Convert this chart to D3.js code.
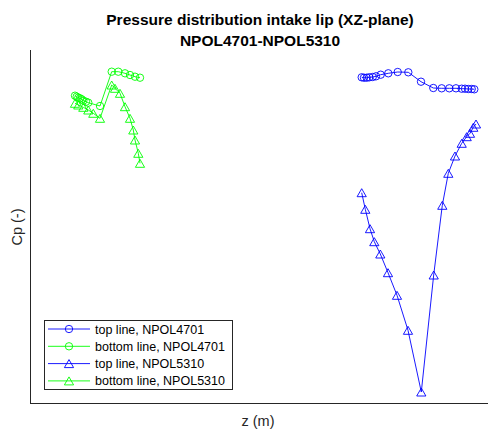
<!DOCTYPE html>
<html>
<head>
<meta charset="utf-8">
<script src="https://cdn.jsdelivr.net/npm/d3@7"></script>
<style>
  body { margin: 0; background: #fff; }
  svg { display: block; font-family: "Liberation Sans", Arial, sans-serif; }
</style>
</head>
<body>
<div id="chart"></div>
<script>
// values (z in m, Cp)
const topZ4701 = [3.317, 3.34, 3.367, 3.393, 3.427, 3.46, 3.507, 3.583, 3.677, 3.783, 3.91, 4.033, 4.117, 4.193, 4.26, 4.317, 4.35, 4.383, 4.417, 4.443];
const topCp4701 = [1.497, 1.493, 1.493, 1.497, 1.50, 1.507, 1.523, 1.537, 1.55, 1.547, 1.453, 1.39, 1.387, 1.387, 1.387, 1.383, 1.383, 1.38, 1.38, 1.377];

const botZ4701 = [0.45, 0.467, 0.483, 0.50, 0.517, 0.533, 0.56, 0.583, 0.70, 0.817, 0.883, 0.95, 1.00, 1.05, 1.10];
const botCp4701 = [1.313, 1.303, 1.293, 1.287, 1.277, 1.263, 1.253, 1.243, 1.21, 1.553, 1.553, 1.537, 1.52, 1.503, 1.493];

const topZ5310 = [3.317, 3.353, 3.40, 3.443, 3.503, 3.58, 3.67, 3.78, 3.913, 4.037, 4.123, 4.183, 4.25, 4.317, 4.367, 4.40, 4.433, 4.46];
const topCp5310 = [0.343, 0.177, -0.017, -0.147, -0.27, -0.457, -0.683, -1.033, -1.65, -0.48, 0.217, 0.537, 0.71, 0.837, 0.903, 0.937, 0.997, 1.03];

const botZ5310 = [0.45, 0.483, 0.533, 0.583, 0.633, 0.70, 0.817, 0.85, 0.90, 0.95, 1.00, 1.033, 1.05, 1.083, 1.10];
const botCp5310 = [1.237, 1.22, 1.197, 1.17, 1.137, 1.087, 1.42, 1.387, 1.337, 1.203, 1.087, 0.97, 0.87, 0.737, 0.637];

const seriesNames = ['top line, NPOL4701', 'bottom line, NPOL4701', 'top line, NPOL5310', 'bottom line, NPOL5310'];

const width = 488, height = 430;
const margin = { top: 50, right: 0, bottom: 27, left: 30 };

const svg = d3.select('#chart').append('svg')
  .attr('width', width)
  .attr('height', height);

const x = d3.scaleLinear()
  .domain([0, 4.58])
  .range([margin.left, width - margin.right]);

const y = d3.scaleLinear()
  .domain([-1.76, 1.77])
  .range([height - margin.bottom, margin.top]);

const series = [
  { name: seriesNames[0], z: topZ4701, cp: topCp4701, color: '#0000ff', marker: 'circle' },
  { name: seriesNames[1], z: botZ4701, cp: botCp4701, color: '#00ff00', marker: 'circle' },
  { name: seriesNames[2], z: topZ5310, cp: topCp5310, color: '#0000ff', marker: 'triangle' },
  { name: seriesNames[3], z: botZ5310, cp: botCp5310, color: '#00ff00', marker: 'triangle' }
];

function markerPath(type) {
  if (type === 'circle') {
    const r = 3.7;
    return `M${r},0A${r},${r} 0 1,1 ${-r},0A${r},${r} 0 1,1 ${r},0Z`;
  }
  return 'M0,-4L4.6,4L-4.6,4Z';
}

// axes: left and bottom only, no ticks
const axisColor = '#262626';
svg.append('line')
  .attr('x1', x.range()[0]).attr('x2', x.range()[0])
  .attr('y1', y.range()[1]).attr('y2', y.range()[0])
  .attr('stroke', axisColor).attr('stroke-width', 1).attr('shape-rendering', 'crispEdges');
svg.append('line')
  .attr('x1', x.range()[0]).attr('x2', x.range()[1])
  .attr('y1', y.range()[0]).attr('y2', y.range()[0])
  .attr('stroke', axisColor).attr('stroke-width', 1).attr('shape-rendering', 'crispEdges');

const line = d3.line()
  .x(d => x(d[0]))
  .y(d => y(d[1]));

const plot = svg.append('g');

for (const s of series) {
  const pts = s.z.map((z, i) => [z, s.cp[i]]);
  plot.append('path')
    .datum(pts)
    .attr('fill', 'none')
    .attr('stroke', s.color)
    .attr('stroke-width', 0.9)
    .attr('d', line);

  plot.selectAll(null)
    .data(pts)
    .enter()
    .append('path')
    .attr('transform', d => `translate(${x(d[0])},${y(d[1])})`)
    .attr('d', markerPath(s.marker))
    .attr('fill', 'none')
    .attr('stroke', s.color)
    .attr('stroke-width', 0.9);
}

// title
svg.append('text')
  .attr('x', 260).attr('y', 24.5)
  .attr('text-anchor', 'middle')
  .attr('font-weight', 'bold')
  .attr('font-size', 15.5)
  .attr('fill', '#000')
  .text('Pressure distribution intake lip (XZ-plane)');
svg.append('text')
  .attr('x', 260).attr('y', 45.5)
  .attr('text-anchor', 'middle')
  .attr('font-weight', 'bold')
  .attr('font-size', 15.5)
  .attr('fill', '#000')
  .text('NPOL4701-NPOL5310');

// axis labels
svg.append('text')
  .attr('x', 258).attr('y', 426)
  .attr('text-anchor', 'middle')
  .attr('font-size', 14.5)
  .attr('fill', axisColor)
  .text('z (m)');
svg.append('text')
  .attr('transform', 'translate(22,227) rotate(-90)')
  .attr('text-anchor', 'middle')
  .attr('font-size', 14.5)
  .attr('fill', axisColor)
  .text('Cp (-)');

// legend
const legend = svg.append('g').attr('transform', 'translate(44,320)');
legend.append('rect')
  .attr('x', 0.5).attr('y', 0.5)
  .attr('width', 188).attr('height', 69)
  .attr('fill', '#fff')
  .attr('stroke', axisColor)
  .attr('stroke-width', 1);

series.forEach((s, i) => {
  const row = legend.append('g').attr('transform', `translate(0,${9 + i * 17.3})`);
  row.append('line')
    .attr('x1', 4).attr('x2', 46)
    .attr('stroke', s.color).attr('stroke-width', 0.9);
  row.append('path')
    .attr('transform', 'translate(25,0)')
    .attr('d', markerPath(s.marker))
    .attr('fill', 'none')
    .attr('stroke', s.color)
    .attr('stroke-width', 0.9);
  row.append('text')
    .attr('x', 51).attr('y', 4.5)
    .attr('font-size', 12.5)
    .attr('fill', '#000')
    .text(s.name);
});
</script>
</body>
</html>
